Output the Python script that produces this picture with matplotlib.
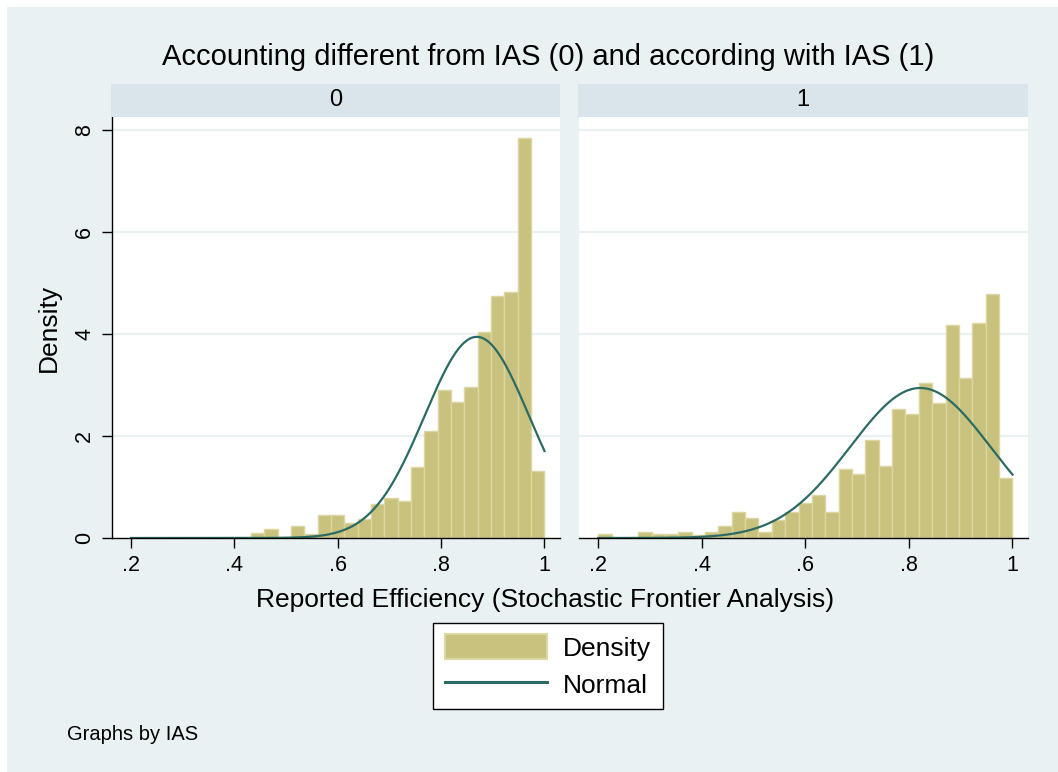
import numpy as np
import matplotlib
matplotlib.use("Agg")
import matplotlib.pyplot as plt
from matplotlib.patches import Rectangle, Patch
from matplotlib.lines import Line2D

plt.rcParams['font.family'] = ['Liberation Sans', 'DejaVu Sans']

# ---- data ----
groups = ["0", "1"]
bin_width = 0.0258
left_start = 0.432
right_start = 0.2
left_heights = [0.10, 0.17, 0.0, 0.23, 0.08, 0.45, 0.45, 0.30, 0.38, 0.67, 0.79,
                0.73, 1.39, 2.10, 2.90, 2.67, 2.96, 4.04, 4.75, 4.82, 7.84, 1.31]
right_heights = [0.07, 0.0, 0.0, 0.12, 0.07, 0.07, 0.12, 0.05, 0.12, 0.24, 0.51,
                 0.40, 0.12, 0.35, 0.51, 0.68, 0.84, 0.51, 1.35, 1.25, 1.92, 1.41,
                 2.53, 2.43, 3.04, 2.65, 4.18, 3.14, 4.22, 4.78, 1.18]
normal_mean = [0.869, 0.822]
normal_sd = [0.1012, 0.1357]
curve_range = (0.2, 1.0)
xticks = [0.2, 0.4, 0.6, 0.8, 1.0]
xticklabels = [".2", ".4", ".6", ".8", "1"]
yticks = [0, 2, 4, 6, 8]

BG = "#EAF1F3"
HEADER = "#D9E5EA"
GRID = "#EAF1F3"
BAR = "#C9C27F"
BAR_EDGE = "#DCD69F"
LINE = "#2B6B64"

W, H = 1058, 772
fig = plt.figure(figsize=(W / 100, H / 100), dpi=100)
fig.patch.set_facecolor("white")

def fx(px):
    return px / W

def fy(py):
    return 1 - py / H

# outer background region
fig.patches.append(Rectangle((fx(7), 0), 1 - fx(7), fy(7), transform=fig.transFigure,
                             facecolor=BG, edgecolor="none", zorder=-5))

panels = [
    dict(x0=112, x1=560, start=left_start, heights=left_heights),
    dict(x0=579, x1=1028, start=right_start, heights=right_heights),
]
top_px, bot_px = 117, 538
hdr_top = 84

xmin, xmax = 0.163, 1.030
ymin, ymax = 0.0, 8.25

TICK_FS = 15.5

for i, p in enumerate(panels):
    ax = fig.add_axes([fx(p["x0"]), fy(bot_px), fx(p["x1"] - p["x0"]), (bot_px - top_px) / H])
    ax.set_facecolor("white")
    h = np.array(p["heights"])
    edges = p["start"] + bin_width * np.arange(len(h))
    ax.bar(edges, h, width=bin_width, align="edge", color=BAR, edgecolor=BAR_EDGE,
           linewidth=1.0, zorder=2)
    xs = np.linspace(curve_range[0], curve_range[1], 400)
    m, s = normal_mean[i], normal_sd[i]
    ys = np.exp(-0.5 * ((xs - m) / s) ** 2) / (s * np.sqrt(2 * np.pi))
    ax.plot(xs, ys, color=LINE, linewidth=1.6, zorder=3)
    ax.set_xlim(xmin, xmax)
    ax.set_ylim(ymin, ymax)
    for yv in yticks[1:]:
        ax.axhline(yv, color=GRID, linewidth=1.6, zorder=1)
    for sp in ["top", "right"]:
        ax.spines[sp].set_visible(False)
    ax.spines["bottom"].set_color("black")
    ax.spines["bottom"].set_linewidth(1.0)
    ax.spines["bottom"].set_zorder(4)
    ax.set_xticks(xticks)
    ax.set_xticklabels(xticklabels, fontsize=TICK_FS)
    ax.tick_params(axis="x", length=7, width=1.0, direction="out", pad=5, colors="black")
    if i == 0:
        ax.spines["left"].set_color("black")
        ax.spines["left"].set_linewidth(1.0)
        ax.set_yticks(yticks)
        ax.set_yticklabels([str(v) for v in yticks], fontsize=TICK_FS, rotation=90, va="center")
        ax.tick_params(axis="y", length=7, width=1.0, direction="out", pad=5)
        ax.set_ylabel("Density", fontsize=19, labelpad=10)
    else:
        ax.spines["left"].set_visible(False)
        ax.set_yticks([])
    # header band
    hx0 = p["x0"] - 1
    fig.patches.append(Rectangle((fx(hx0), fy(top_px)), fx(p["x1"] - hx0), (top_px - hdr_top) / H,
                                 transform=fig.transFigure, facecolor=HEADER,
                                 edgecolor="none", zorder=1))
    fig.text(fx((hx0 + p["x1"]) / 2), fy((top_px + hdr_top) / 2), groups[i],
             ha="center", va="center", fontsize=17)

fig.text(fx(548), fy(57), "Accounting different from IAS (0) and according with IAS (1)",
         ha="center", va="center", fontsize=21)
fig.text(fx(545), fy(600), "Reported Efficiency (Stochastic Frontier Analysis)",
         ha="center", va="center", fontsize=19)
fig.text(fx(67), fy(735), "Graphs by IAS", ha="left", va="center", fontsize=14.5)

handles = [Patch(facecolor=BAR, edgecolor=BAR_EDGE, linewidth=1.5),
           Line2D([0], [0], color=LINE, linewidth=2.2)]
leg = fig.legend(handles, ["Density", "Normal"], loc="center",
                 bbox_to_anchor=(fx(548), fy(666)), fontsize=19, frameon=True,
                 fancybox=False, edgecolor="black", framealpha=1,
                 handlelength=3.9, handleheight=1.05, handletextpad=0.6,
                 borderpad=0.45, labelspacing=0.4, borderaxespad=0)
leg.get_frame().set_linewidth(1.0)

fig.savefig("out.png", dpi=100, facecolor=fig.get_facecolor())
